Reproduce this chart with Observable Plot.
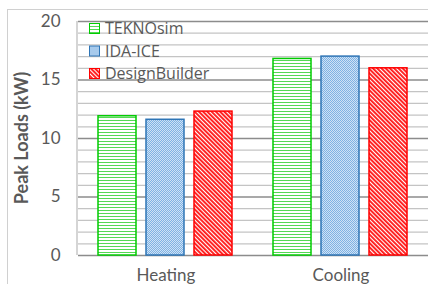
<!DOCTYPE html>
<html><head><meta charset="utf-8">
<script src="https://cdn.jsdelivr.net/npm/d3@7"></script>
<script src="https://cdn.jsdelivr.net/npm/@observablehq/plot@0.6"></script>
<style>
body{margin:0;background:#fff;}
#chart svg{font-family:Lato,"Liberation Sans",sans-serif;}
</style>
</head><body><div id="chart"></div>
<script>
const groups = ["Heating", "Cooling"];
const series = ["TEKNOsim", "IDA-ICE", "DesignBuilder"];
const heatingValues = [11.9, 11.6, 12.3];
const coolingValues = [16.8, 17.0, 16.0];
const yTicks = [0, 5, 10, 15, 20];
const minorTicks = [1, 2, 3, 4, 6, 7, 8, 9, 11, 12, 13, 14, 16, 17, 18, 19];
const patternIds = ["pGreen", "pBlue", "pRed"];
const strokes = ["#00cc00", "#2e75b6", "#ff0000"];

const data = [];
groups.forEach((g, i) => series.forEach((s, j) => data.push({group: g, series: s, value: (i === 0 ? heatingValues : coolingValues)[j]})));

const plot = Plot.plot({
  width: 428, height: 284,
  marginLeft: 77, marginRight: 0, marginTop: 21, marginBottom: 29,
  style: {fontSize: "17px", color: "#595959", background: "white", overflow: "visible"},
  fx: {domain: groups, padding: 0, label: null, axis: "bottom", tickSize: 0, tickPadding: 13},
  x: {domain: series, paddingInner: 0.2, paddingOuter: 0.39, axis: null},
  y: {domain: [0, 20], ticks: yTicks, tickSize: 0, tickPadding: 18, label: null},
  marks: [
    Plot.ruleY(minorTicks, {stroke: "#c4c4c4", strokeWidth: 1.3}),
    Plot.ruleY(yTicks, {stroke: "#8c8c8c", strokeWidth: 1.3}),
    ...series.map((s, j) => Plot.barY(data.filter(d => d.series === s), {
      fx: "group", x: "series", y: "value",
      fill: `url(#${patternIds[j]})`, stroke: strokes[j], strokeWidth: 1.5
    }))
  ]
});

const svg = d3.select(plot);
const defs = svg.insert("defs", ":first-child");
// green horizontal lines
const pg = defs.append("pattern").attr("id", "pGreen").attr("patternUnits", "userSpaceOnUse").attr("width", 4).attr("height", 3);
pg.append("rect").attr("width", 4).attr("height", 3).attr("fill", "#fff");
pg.append("rect").attr("y", 0).attr("width", 4).attr("height", 1).attr("fill", "#55d855");
// blue dotted
const pb = defs.append("pattern").attr("id", "pBlue").attr("patternUnits", "userSpaceOnUse").attr("width", 2).attr("height", 2);
pb.append("rect").attr("width", 2).attr("height", 2).attr("fill", "#cfe2f5");
pb.append("rect").attr("width", 1).attr("height", 1).attr("fill", "#7fb2e3");
pb.append("rect").attr("x", 1).attr("y", 1).attr("width", 1).attr("height", 1).attr("fill", "#7fb2e3");
// red diagonal
const pr = defs.append("pattern").attr("id", "pRed").attr("patternUnits", "userSpaceOnUse").attr("width", 3).attr("height", 3).attr("patternTransform", "rotate(-45)");
pr.append("rect").attr("width", 3).attr("height", 3).attr("fill", "#fff");
pr.append("rect").attr("width", 1.9).attr("height", 3).attr("fill", "#ff1a1a");

const y = plot.scale("y");
const yTop = y.apply(20), yBot = y.apply(0);
// left axis line
svg.append("line").attr("x1", 77).attr("x2", 77).attr("y1", yTop).attr("y2", yBot).attr("stroke", "#bfbfbf").attr("stroke-width", 1.3);
// chart outer frame
svg.append("rect").attr("x", 7.5).attr("y", 9.5).attr("width", 440).attr("height", 300).attr("fill", "none").attr("stroke", "#d0d0d0");
// y label
svg.append("text").attr("transform", `translate(28,${(yTop + yBot) / 2}) rotate(-90)`)
  .attr("text-anchor", "middle").attr("font-weight", "bold").attr("font-size", 18).attr("fill", "#595959")
  .text("Peak Loads (kW)");
// legend
const lg = svg.append("g").attr("transform", "translate(89,23)");
series.forEach((s, j) => {
  const row = lg.append("g").attr("transform", `translate(0,${j * 22.5})`);
  row.append("rect").attr("x", 0.5).attr("y", 0.5).attr("width", 10).attr("height", 10)
    .attr("fill", `url(#${patternIds[j]})`).attr("stroke", strokes[j]);
  row.append("text").attr("x", 16).attr("y", 5.5).attr("dy", "0.35em").attr("text-anchor", "start")
    .attr("font-family", "'Open Sans'").attr("font-size", 16).attr("fill", "#595959").text(s);
});

document.getElementById("chart").appendChild(plot);
</script>
</body></html>
